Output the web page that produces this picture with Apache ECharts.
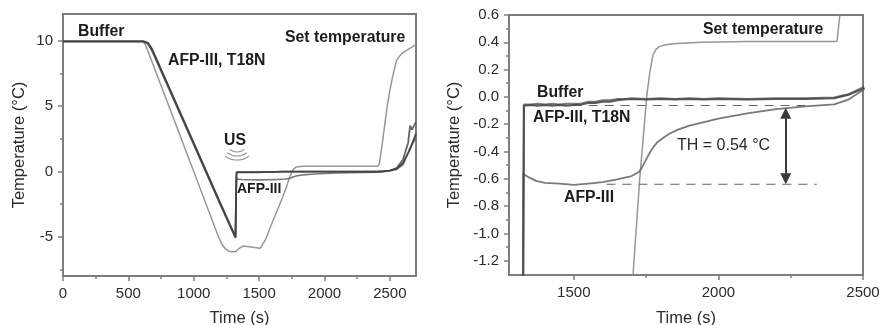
<!DOCTYPE html>
<html>
<head>
<meta charset="utf-8">
<style>
  html, body { margin: 0; padding: 0; background: #fff; }
  #chart-container { width: 882px; height: 325px; }
</style>
<script src="https://cdn.jsdelivr.net/npm/echarts@6/dist/echarts.min.js"></script>
</head>
<body>
<div id="chart-container"></div>
<script>
// time (s), temperature (C)
const setTemperature = [[0,9.95],[600,9.95],[625,9.8],[650,9.2],[800,5.25],[1000,0],[1189,-5],[1215,-5.55],[1240,-5.9],[1265,-6.08],[1290,-6.15],[1320,-6.15],[1345,-5.9],[1380,-5.7],[1450,-5.8],[1510,-5.87],[1550,-5.2],[1600,-3.9],[1650,-2.7],[1680,-1.95],[1705,-1.3],[1728,-0.6],[1753,0.02],[1763,0.18],[1774,0.31],[1785,0.35],[1797,0.37],[1815,0.38],[1842,0.39],[1944,0.4],[2100,0.405],[2300,0.405],[2410,0.405],[2420,0.6],[2440,2],[2480,5],[2500,6.2],[2520,7.2],[2551,8.5],[2580,8.9],[2600,9.1],[2650,9.4],[2700,9.7]];
const buffer = [[0,9.95],[620,9.95],[650,9.85],[680,9.4],[700,8.95],[1000,2.18],[1200,-2.34],[1318,-5],[1325,-1.3],[1328,-0.065],[1350,-0.06],[1375,-0.065],[1400,-0.06],[1425,-0.065],[1450,-0.06],[1475,-0.065],[1500,-0.06],[1525,-0.055],[1550,-0.045],[1575,-0.045],[1600,-0.035],[1625,-0.035],[1650,-0.025],[1675,-0.02],[1700,-0.015],[1750,-0.02],[1800,-0.015],[1850,-0.02],[1900,-0.015],[1950,-0.02],[2000,-0.015],[2100,-0.02],[2200,-0.015],[2300,-0.015],[2400,-0.01],[2450,0.015],[2500,0.06],[2550,0.2],[2600,0.65],[2650,1.6],[2700,2.9]];
const t18n = [[0,9.95],[615,9.95],[650,9.75],[680,9.25],[700,8.8],[1000,2.05],[1200,-2.47],[1320,-5.1],[1325,-1.3],[1327,-0.055],[1350,-0.055],[1375,-0.05],[1400,-0.055],[1425,-0.05],[1450,-0.055],[1475,-0.05],[1500,-0.05],[1525,-0.05],[1550,-0.035],[1575,-0.035],[1600,-0.025],[1625,-0.025],[1650,-0.015],[1675,-0.015],[1700,-0.01],[1750,-0.015],[1800,-0.01],[1850,-0.015],[1900,-0.01],[1950,-0.015],[2000,-0.01],[2100,-0.015],[2200,-0.01],[2300,-0.01],[2400,-0.005],[2450,0.02],[2500,0.07],[2550,0.25],[2600,0.9],[2640,2.2],[2655,3.5],[2670,3.2],[2700,3.8]];
const afp3 = [[0,9.95],[620,9.95],[650,9.8],[680,9.3],[700,8.9],[1000,2.14],[1200,-2.38],[1320,-5],[1325,-1.3],[1325.5,-0.565],[1345,-0.59],[1370,-0.615],[1400,-0.63],[1450,-0.635],[1500,-0.645],[1550,-0.635],[1600,-0.625],[1650,-0.605],[1700,-0.58],[1725,-0.55],[1735,-0.52],[1745,-0.48],[1755,-0.44],[1765,-0.4],[1778,-0.36],[1790,-0.33],[1810,-0.3],[1830,-0.27],[1860,-0.24],[1900,-0.21],[2000,-0.16],[2100,-0.12],[2200,-0.09],[2300,-0.07],[2400,-0.055],[2450,-0.02],[2500,0.05],[2550,0.15],[2600,0.5],[2650,1.7],[2700,2.6]];
const upperDash = [[1330,-0.063],[2300,-0.063]];
const lowerDash = [[1613,-0.64],[2340,-0.64]];
const arrowEnds = [[2233,-0.12],[2233,-0.6]];

const leftXMajor = [0,500,1000,1500,2000,2500];
const leftXMinor = [250,750,1250,1750,2250];
const leftYMajor = [-5,0,5,10];
const leftYMinor = [-7.5,-2.5,2.5,7.5];
const rightXMajor = [1500,2000,2500];
const rightXMinor = [1750,2250];
const rightYMajor = [-1.2,-1,-0.8,-0.6,-0.4,-0.2,0,0.2,0.4,0.6];
const rightYMinor = [-1.1,-0.9,-0.7,-0.5,-0.3,-0.1,0.1,0.3,0.5];

const FONT = '"Liberation Sans", Arial, sans-serif';
const FRAME = '#7d7d7d';

const chart = echarts.init(document.getElementById('chart-container'));

function baseAxis(position, gridIndex, min, max, major, labelFormat, extra) {
    return Object.assign({
        type: 'value', gridIndex, min, max, position,
        scale: true,
        splitLine: { show: false },
        axisLine: { show: true, onZero: false, lineStyle: { color: FRAME, width: 2 } },
        axisTick: { show: true, customValues: major, length: 5, inside: false, lineStyle: { color: FRAME, width: 1.5 } },
        axisLabel: {
            show: true, customValues: major, color: '#2b2b2b', fontFamily: FONT, fontSize: 15,
            margin: 10, hideOverlap: false, formatter: labelFormat
        },
        nameTextStyle: { color: '#2b2b2b', fontFamily: FONT, fontSize: 16.5 }
    }, extra);
}

// same scale again, only to carry the shorter unlabelled ticks
function minorAxis(position, gridIndex, min, max, minor) {
    return {
        type: 'value', gridIndex, min, max, position,
        splitLine: { show: false },
        axisLine: { show: false, onZero: false },
        axisTick: { show: true, customValues: minor, length: 3, lineStyle: { color: FRAME, width: 1.5 } },
        axisLabel: { show: false }
    };
}

function curve(name, data, axis, color, width, z) {
    return {
        name, type: 'line', data, xAxisIndex: axis, yAxisIndex: axis,
        showSymbol: false, symbol: 'none', silent: true, clip: true, z,
        lineStyle: { color, width, opacity: 0.9 }, animation: false
    };
}

function dashed(data) {
    return {
        type: 'line', data, xAxisIndex: 1, yAxisIndex: 1, symbol: 'none', silent: true, z: 1,
        lineStyle: { color: '#666', width: 1.2, type: [9, 7] }, animation: false
    };
}

function boldText(text, x, y, size) {
    return {
        type: 'text', x, y, silent: true, z: 50,
        style: { text, fill: '#1c1c1c', font: 'bold ' + (size || 15.8) + 'px ' + FONT, textVerticalAlign: 'middle' }
    };
}

function wave(r) {
    return {
        type: 'arc', silent: true, z: 50,
        shape: { cx: 237, cy: 140, r, startAngle: Math.PI / 2 - 0.65, endAngle: Math.PI / 2 + 0.65 },
        style: { stroke: '#9a9a9a', lineWidth: 1.2, fill: null }
    };
}

const plainLabel = v => String(v);
const oneDecimal = v => v.toFixed(1);

const option = {
    animation: false,
    backgroundColor: '#fff',
    grid: [
        { left: 63, top: 14, width: 353, height: 262, outerBoundsMode: 'none', show: true, borderColor: FRAME, borderWidth: 2, backgroundColor: 'transparent' },
        { left: 509, top: 15, width: 354, height: 260, outerBoundsMode: 'none', show: true, borderColor: FRAME, borderWidth: 2, backgroundColor: 'transparent' }
    ],
    xAxis: [
        baseAxis('bottom', 0, 0, 2700, leftXMajor, plainLabel, { name: 'Time (s)', nameLocation: 'middle', nameGap: 34 }),
        baseAxis('bottom', 1, 1276, 2500, rightXMajor, plainLabel, { name: 'Time (s)', nameLocation: 'middle', nameGap: 35 }),
        minorAxis('bottom', 0, 0, 2700, leftXMinor),
        minorAxis('bottom', 1, 1276, 2500, rightXMinor)
    ],
    yAxis: [
        baseAxis('left', 0, -8, 12.05, leftYMajor, plainLabel, { name: 'Temperature (°C)', nameLocation: 'middle', nameGap: 35 }),
        baseAxis('left', 1, -1.305, 0.6, rightYMajor, oneDecimal, { name: 'Temperature (°C)', nameLocation: 'middle', nameGap: 46 }),
        minorAxis('left', 0, -8, 12.05, leftYMinor),
        minorAxis('left', 1, -1.305, 0.6, rightYMinor)
    ],
    series: [
        curve('Set temperature', setTemperature, 0, '#8c8c8c', 1.5, 2),
        curve('AFP-III', afp3, 0, '#6a6a6a', 1.6, 3),
        curve('AFP-III, T18N', t18n, 0, '#555', 1.8, 4),
        curve('Buffer', buffer, 0, '#3f3f3f', 1.8, 5),
        curve('Set temperature', setTemperature, 1, '#8c8c8c', 1.5, 2),
        curve('AFP-III', afp3, 1, '#6a6a6a', 1.8, 3),
        curve('AFP-III, T18N', t18n, 1, '#6a6a6a', 2, 4),
        curve('Buffer', buffer, 1, '#4a4a4a', 2, 5),
        dashed(upperDash),
        dashed(lowerDash),
        {
            type: 'line', data: [], xAxisIndex: 1, yAxisIndex: 1, silent: true,
            markLine: {
                silent: true, animation: false,
                symbol: ['triangle', 'triangle'], symbolSize: [11, 11],
                label: { show: false },
                lineStyle: { color: '#3a3a3a', width: 2, type: 'solid' },
                data: [[{ coord: arrowEnds[0] }, { coord: arrowEnds[1] }]]
            }
        }
    ],
    graphic: { elements: [
        boldText('Buffer', 78, 32),
        boldText('Set temperature', 285, 38),
        boldText('AFP-III, T18N', 168, 61),
        boldText('US', 224, 141),
        boldText('AFP-III', 237, 189, 14),
        wave(12), wave(16), wave(20),
        boldText('Set temperature', 703, 30),
        boldText('Buffer', 537, 93),
        boldText('AFP-III, T18N', 533, 118),
        boldText('AFP-III', 564, 198),
        {
            type: 'text', x: 677, y: 146, silent: true, z: 50,
            style: { text: 'TH = 0.54 °C', fill: '#2b2b2b', font: '16px ' + FONT, textVerticalAlign: 'middle' }
        }
    ] }
};

chart.setOption(option);
window.addEventListener('resize', () => chart.resize());
</script>
</body>
</html>
